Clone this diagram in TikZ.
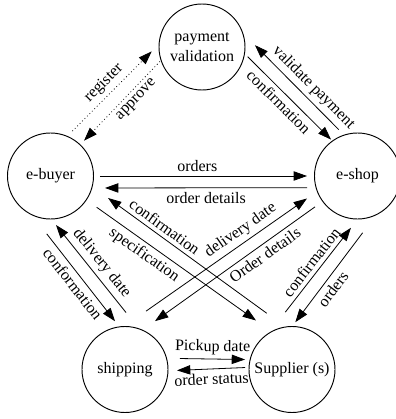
\documentclass[tikz,border=0pt]{standalone}
\usepackage{fontspec}
\setmainfont{Liberation Serif}
\usetikzlibrary{calc}
\usetikzlibrary{arrows.meta}
\tikzset{every edge/.style={draw}}
\tikzset{state/.style={circle, draw, line width=0.7pt, minimum size=64.5pt, inner sep=0pt, align=center, font=\fontsize{12}{15}\selectfont}}
\tikzset{flow/.style={line width=0.6pt, -{Triangle[length=10pt,width=7pt]}}}
\tikzset{lbl/.style={sloped, inner sep=3pt, font=\fontsize{12}{14}\selectfont}}

\begin{document}
\begin{tikzpicture}[x=0.75pt, y=0.75pt]       % order process flows
    \path[use as bounding box] (0,0) rectangle (396,419);

    \node[state] at (202,372) (PV) {payment\\validation};
    \node[state] at (50.5,243) (EB) {e-buyer};
    \node[state] at (357.5,243) (ES) {e-shop};
    \node[state] at (125,49.5) (SH) {shipping};
    \node[state] at (292,49.5) (SU) {Supplier (s)};

    % buyer <-> payment
    \draw ($(EB)+(64:50)$) edge[flow, dotted] node[lbl, above] {register} ($(PV)+(185:50.5)$);
    \draw ($(PV)+(199:44.5)$) edge[flow, dotted] node[lbl, below, pos=0.4] {approve} ($(EB)+(46.5:48.7)$);

    % shop <-> payment
    \draw ($(ES)+(112:50)$) edge[flow] node[lbl, above, pos=0.4] {validate payment} ($(PV)+(2:53)$);
    \draw ($(PV)+(-12:46.7)$) edge[flow] node[lbl, below, pos=0.46] {confirmation} ($(ES)+(126:45)$);

    % buyer <-> shop
    \draw ($(EB)+(0:49.5)$) edge[flow] node[lbl, above, pos=0.47] {orders} ($(ES)+(180:50.5)$);
    \draw ($(ES)+(193:51.8)$) edge[flow] node[lbl, below] {order details} ($(EB)+(-12.4:55.8)$);

    % buyer <-> shipping
    \draw ($(EB)+(-93.7:58)$) edge[flow] node[lbl, below] {conformation} ($(SH)+(101.7:49.3)$);
    \draw ($(SH)+(89:57)$) edge[flow] node[lbl, above, pos=0.48] {delivery date} ($(EB)+(-83.6:49.3)$);

    % shop <-> supplier
    \draw ($(SU)+(96.7:57.7)$) edge[flow] node[lbl, above, pos=0.52] {confirmation} ($(ES)+(-97.2:52.2)$);
    \draw ($(ES)+(-84.8:57)$) edge[flow] node[lbl, below, pos=0.56] {orders} ($(SU)+(86:47.4)$);

    % shipping <-> supplier
    \draw ($(SH)+(11.3:56)$) edge[flow] node[lbl, above] {Pickup date} ($(SU)+(168:48)$);
    \draw ($(SU)+(177.6:47)$) edge[flow] node[lbl, below] {order status} ($(SH)+(-1:52)$);

    % crossing flows
    \draw ($(SU)+(114.2:61.7)$) edge[flow] node[lbl, above, pos=0.68] {confirmation} ($(EB)+(-20.9:61.6)$);
    \draw ($(EB)+(-34.1:55.8)$) edge[flow] node[lbl, below, pos=0.34] {specification} ($(SU)+(126.3:60.8)$);
    \draw ($(SH)+(70.2:62)$) edge[flow] node[lbl, above, pos=0.63] {delivery date} ($(ES)+(204:55.3)$);
    \draw ($(ES)+(216:52.5)$) edge[flow] node[lbl, below, pos=0.35] {Order details} ($(SH)+(58.2:56.9)$);
\end{tikzpicture}
\end{document}
